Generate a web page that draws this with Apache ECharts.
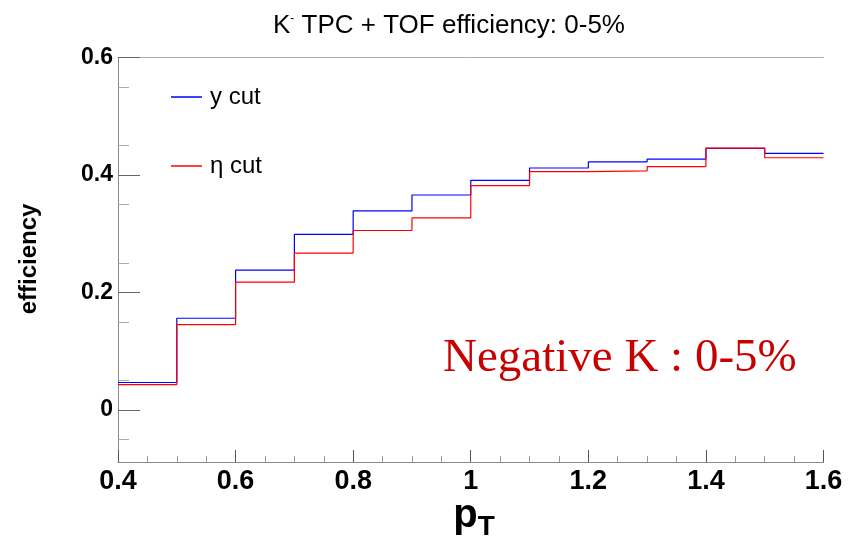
<!DOCTYPE html>
<html>
<head>
<meta charset="utf-8">
<script src="https://cdn.jsdelivr.net/npm/echarts@6/dist/echarts.min.js"></script>
<style>
  html, body { margin: 0; padding: 0; background: #fff; }
  #chart { width: 848px; height: 541px; }
</style>
</head>
<body>
<div id="chart"></div>
<script>
// Bin edges in pT (GeV/c) and efficiency per bin
const binEdges = [0.4, 0.5, 0.6, 0.7, 0.8, 0.9, 1.0, 1.1, 1.2, 1.3, 1.4, 1.5, 1.6];
const yCutEff = [0.0465, 0.156, 0.238, 0.299, 0.339, 0.366, 0.391, 0.412, 0.4225, 0.427, 0.4455, 0.437];
const etaCutEff = [0.043, 0.145, 0.2175, 0.267, 0.3055, 0.327, 0.382, 0.406, 0.407, 0.4145, 0.446, 0.4295];
const seriesNames = ['y cut', '\u03b7 cut'];
const seriesColors = ['#0000ff', '#ff0000'];

// Axis tick positions
const yLabelValues = [0, 0.2, 0.4, 0.6];
const yMinorValues = [-0.05, 0.05, 0.15, 0.25, 0.35, 0.45, 0.55];

// Turn per-bin contents into step points: left edge of each bin, plus the last right edge
function histPoints(values) {
  const pts = values.map((v, i) => [binEdges[i], v]);
  pts.push([binEdges[binEdges.length - 1], values[values.length - 1]]);
  return pts;
}

const SANS = '"Liberation Sans", Arial, Helvetica, sans-serif';
const SERIF = '"Liberation Serif", "Times New Roman", serif';

const chart = echarts.init(document.getElementById('chart'), null, { renderer: 'canvas' });

chart.setOption({
  animation: false,
  backgroundColor: '#ffffff',
  grid: { left: 118, right: 24.5, top: 57.7, bottom: 79, containLabel: false },
  legend: {
    orient: 'vertical',
    left: 171,
    top: 85,
    padding: 0,
    itemWidth: 31,
    itemHeight: 1.5,
    itemGap: 45,
    icon: 'rect',
    data: seriesNames.map((n, i) => ({ name: n, itemStyle: { color: seriesColors[i] } })),
    textStyle: { fontFamily: SANS, fontSize: 24, color: '#000', padding: [0, 0, 0, 3] }
  },
  xAxis: [
    {
      type: 'value',
      min: 0.4,
      max: 1.6,
      interval: 0.2,
      position: 'bottom',
      axisLine: { show: true, onZero: false, lineStyle: { color: '#8a8a8a', width: 1 } },
      axisTick: { show: true, inside: true, length: 12, lineStyle: { color: '#555' } },
      minorTick: { show: true, splitNumber: 4, length: 6, lineStyle: { color: '#999' } },
      axisLabel: {
        margin: 6,
        fontFamily: SANS,
        fontWeight: 'bold',
        fontSize: 27,
        color: '#000',
        showMinLabel: true,
        showMaxLabel: true
      },
      splitLine: { show: false }
    },
    {
      type: 'value',
      min: 0.4,
      max: 1.6,
      position: 'top',
      axisLine: { show: true, onZero: false, lineStyle: { color: '#aaaaaa', width: 1 } },
      axisTick: { show: false },
      axisLabel: { show: false },
      splitLine: { show: false }
    }
  ],
  yAxis: [
    {
      type: 'value',
      min: -0.089,
      max: 0.6,
      position: 'left',
      axisLine: { show: true, onZero: false, lineStyle: { color: '#8a8a8a', width: 1 } },
      axisTick: { show: true, inside: true, length: 22, customValues: yLabelValues, lineStyle: { color: '#666' } },
      axisLabel: {
        customValues: yLabelValues,
        margin: 5,
        fontFamily: SANS,
        fontWeight: 'bold',
        fontSize: 23,
        color: '#000'
      },
      splitLine: { show: false }
    },
    {
      type: 'value',
      min: -0.089,
      max: 0.6,
      position: 'left',
      axisLine: { show: false },
      axisTick: { show: true, inside: true, length: 11, customValues: yMinorValues, lineStyle: { color: '#aaa' } },
      axisLabel: { show: false },
      splitLine: { show: false }
    }
  ],
  series: [
    {
      name: seriesNames[0],
      type: 'line',
      step: 'end',
      xAxisIndex: 0,
      yAxisIndex: 0,
      showSymbol: false,
      color: seriesColors[0],
      lineStyle: { color: seriesColors[0], width: 1.2 },
      data: histPoints(yCutEff),
      z: 3
    },
    {
      name: seriesNames[1],
      type: 'line',
      step: 'end',
      xAxisIndex: 0,
      yAxisIndex: 0,
      showSymbol: false,
      color: seriesColors[1],
      lineStyle: { color: seriesColors[1], width: 1.2 },
      data: histPoints(etaCutEff),
      z: 4
    }
  ],
  graphic: [
    {
      type: 'text',
      x: 273,
      y: 13,
      style: {
        text: '{k|K}{s|-}{t| TPC + TOF efficiency: 0-5%}',
        rich: {
          k: { fontFamily: SANS, fontSize: 26, color: '#000' },
          s: { fontFamily: SANS, fontSize: 12, color: '#000', verticalAlign: 'top', padding: [0, 0, 10, 0] },
          t: { fontFamily: SANS, fontSize: 26, color: '#000' }
        }
      }
    },
    {
      type: 'text',
      x: 443,
      y: 359,
      style: {
        text: 'Negative K : 0-5%',
        fontFamily: SERIF,
        fontSize: 47,
        fill: '#c80000',
        textAlign: 'left',
        textVerticalAlign: 'middle'
      }
    },
    {
      type: 'text',
      x: 29,
      y: 259,
      rotation: Math.PI / 2,
      style: {
        text: 'efficiency',
        fontFamily: SANS,
        fontWeight: 'bold',
        fontSize: 24,
        fill: '#000',
        textAlign: 'center',
        textVerticalAlign: 'middle'
      }
    },
    {
      type: 'text',
      x: 474,
      y: 516,
      style: {
        text: '{p|p}{t|T}',
        textAlign: 'center',
        textVerticalAlign: 'middle',
        rich: {
          p: { fontFamily: SANS, fontWeight: 'bold', fontSize: 40, color: '#000' },
          t: { fontFamily: SANS, fontWeight: 'bold', fontSize: 28, color: '#000', verticalAlign: 'bottom', padding: [22, 0, 0, 0] }
        }
      }
    }
  ]
});
</script>
</body>
</html>
